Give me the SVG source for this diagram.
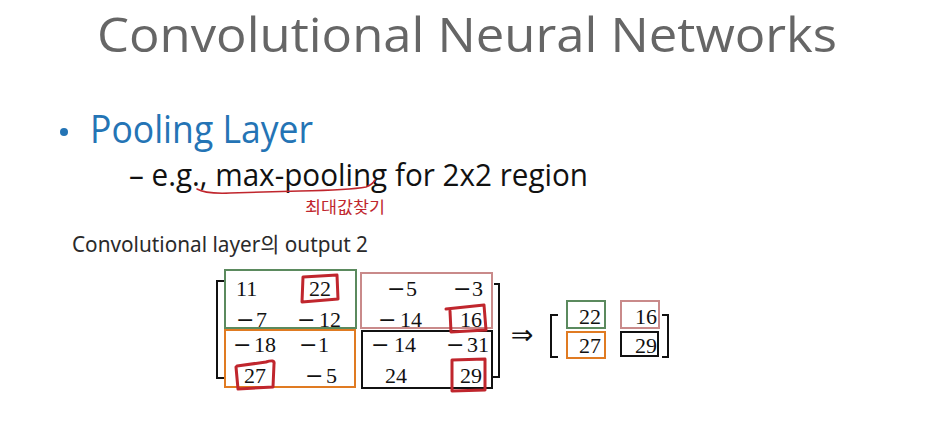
<svg xmlns="http://www.w3.org/2000/svg" width="936" height="425" viewBox="0 0 936 425">
<style>
.title{font-family:"Open Sans","Noto Sans",sans-serif;font-size:48px;fill:#666666}
.head{font-family:"Open Sans","Noto Sans",sans-serif;font-size:38px;fill:#2474b5}
.sub{font-family:"Open Sans","Noto Sans",sans-serif;font-size:31px;fill:#111111}
.hand{font-family:"Noto Sans","Noto Sans CJK KR",sans-serif;font-size:21px;fill:#2a2a2a}
.kr{font-family:"Noto Sans CJK KR",sans-serif;font-size:16px;fill:#c0262d}
.num{font-family:"Liberation Serif","DejaVu Serif",serif;font-size:22px;fill:#111111}
.mn{font-family:"DejaVu Serif",serif}
.box{fill:none;stroke-width:2}
.g{stroke:#5b8a5e}.p{stroke:#c98a8a}.o{stroke:#e07b22}.k{stroke:#111111}
.br{fill:none;stroke:#111111;stroke-width:2}
.red{fill:none;stroke:#c0262d;stroke-width:3;stroke-linejoin:round;stroke-linecap:round}
</style>
<rect width="936" height="425" fill="#ffffff"/>
<g id="title"><text class="title" x="467" y="52" text-anchor="middle" textLength="740" lengthAdjust="spacingAndGlyphs">Convolutional Neural Networks</text></g>
<g id="bullet">
<circle cx="64" cy="132" r="4" fill="#2474b5"/>
<text class="head" x="90" y="143" textLength="223" lengthAdjust="spacingAndGlyphs">Pooling Layer</text>
<text class="sub" x="129" y="186" textLength="459" lengthAdjust="spacingAndGlyphs">– e.g., max-pooling for 2x2 region</text>
<path class="red" style="stroke-width:1.5" d="M197,189 Q205,194 230,193 L300,191 Q350,190 366,187 Q372,185 375,180"/>
<text class="kr" x="305" y="213" textLength="80" lengthAdjust="spacingAndGlyphs">최대값찾기</text>
</g>
<g id="note"><text class="hand" x="72" y="252" textLength="296" lengthAdjust="spacingAndGlyphs">Convolutional layer의 output 2</text></g>
<g id="input-matrix">
<path class="br" d="M226,281 H217 V378 H226"/>
<path class="br" d="M494,284 H499 V377 H493"/>
<g id="region-green"><rect class="box g" x="225" y="270" width="131" height="58"/>
<text class="num" x="236" y="296">11</text>
<text class="num" x="309" y="296">22</text>
<text class="num"><tspan class="mn" x="236" y="327">−</tspan><tspan x="256" y="327">7</tspan></text>
<text class="num"><tspan class="mn" x="297" y="327">−</tspan><tspan x="319" y="327">12</tspan></text></g>
<g id="region-pink"><rect class="box p" x="361" y="273" width="131" height="55"/>
<text class="num"><tspan class="mn" x="387" y="296">−</tspan><tspan x="406" y="296">5</tspan></text>
<text class="num"><tspan class="mn" x="453" y="296">−</tspan><tspan x="472" y="296">3</tspan></text>
<text class="num"><tspan class="mn" x="378" y="327">−</tspan><tspan x="400" y="327">14</tspan></text>
<text class="num" x="460" y="327">16</text></g>
<g id="region-orange"><rect class="box o" x="225" y="330" width="130" height="57"/>
<text class="num"><tspan class="mn" x="233" y="352">−</tspan><tspan x="254" y="352">18</tspan></text>
<text class="num"><tspan class="mn" x="299" y="352">−</tspan><tspan x="318" y="352">1</tspan></text>
<text class="num" x="244" y="383">27</text>
<text class="num"><tspan class="mn" x="305" y="383">−</tspan><tspan x="326" y="383">5</tspan></text></g>
<g id="region-black"><rect class="box k" x="362" y="331" width="130" height="57"/>
<text class="num"><tspan class="mn" x="371" y="352">−</tspan><tspan x="394" y="352">14</tspan></text>
<text class="num"><tspan class="mn" x="446" y="352">−</tspan><tspan x="467" y="352">31</tspan></text>
<text class="num" x="385" y="383">24</text>
<text class="num" x="460" y="383">29</text></g>
<g id="marks">
<path class="red" d="M303,277 L337,275 L338,299 L302,302 Z"/>
<path class="red" d="M446,309 L484,305 L486,330 L451,332 L450,311"/>
<path class="red" d="M237,366 L266,362 Q275,359 274,364 L273,387 L238,389 L236,367"/>
<path class="red" d="M452,360 L485,359 L485,390 L452,391 Z"/>
</g>
</g>
<g id="connectors"><text x="522" y="344" font-family="DejaVu Sans,sans-serif" font-size="27" fill="#111111" text-anchor="middle">⇒</text></g>
<g id="output-matrix">
<path class="br" d="M558,315 H551 V357 H558"/>
<path class="br" d="M662,315 H668 V357 H662"/>
<rect class="box g" x="567" y="301" width="38" height="27"/>
<rect class="box p" x="621" y="301" width="38" height="27"/>
<rect class="box o" x="567" y="332" width="38" height="26"/>
<rect class="box k" x="621" y="332" width="37" height="24"/>
<text class="num" x="579" y="324">22</text><text class="num" x="635" y="324">16</text>
<text class="num" x="579" y="353">27</text><text class="num" x="635" y="353">29</text>
</g>
</svg>
